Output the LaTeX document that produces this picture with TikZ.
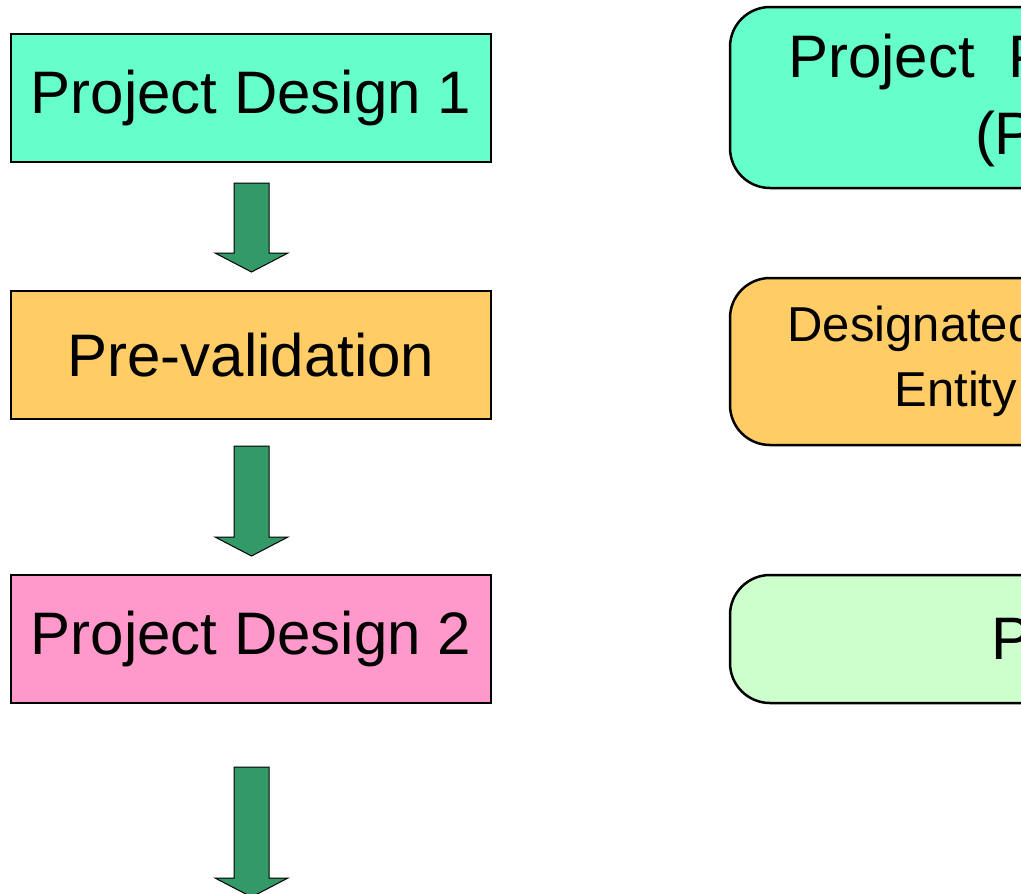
\documentclass[tikz,border=0pt]{standalone}
\usepackage{fontspec}
\setmainfont{Liberation Sans}
\begin{document}
\begin{tikzpicture}[x=1pt,y=-1pt,
  stagebox/.style={draw=black,line width=2pt,minimum width=480pt,minimum height=128pt,inner sep=0pt,font=\fontsize{60}{72}\selectfont},
  actorbox/.style={draw=black,line width=2.5pt,rounded corners=40pt,inner sep=0pt,align=center},
  flowarrow/.style={fill=arrowgreen,draw=black,line width=1pt}]
\definecolor{cyanbox}{HTML}{66FFCC}
\definecolor{orangebox}{HTML}{FFCC66}
\definecolor{pinkbox}{HTML}{FF99CC}
\definecolor{lightgreenbox}{HTML}{CCFFCC}
\definecolor{arrowgreen}{HTML}{339966}
\useasboundingbox (0,0) rectangle (1021,894);
\begin{scope}
\clip (0,0) rectangle (1021,894);
% left stages
\node[stagebox,fill=cyanbox] (pd1) at (251,98) {Project Design 1};
\node[stagebox,fill=orangebox] (pv) at (251,355) {Pre-validation};
\node[stagebox,fill=pinkbox] (pd2) at (251,639) {Project Design 2};
% block arrows
\foreach \top/\base/\tip [count=\i] in {183/253/272, 446/537/556, 767/878/897}{
  \draw[flowarrow] (234,\top) -- (269,\top) -- (269,\base) -- (288,\base) -- (251.5,\tip) -- (215,\base) -- (234,\base) -- cycle;
}
% right actors (cut by the picture edge)
\draw[actorbox,fill=cyanbox] (730,7) rectangle (1340,188);
\node[font=\fontsize{60}{77}\selectfont,align=center] (pp1) at (1035,100) {\hspace*{40pt}Project~ Participants\\(PP)};
\draw[actorbox,fill=orangebox] (730,278) rectangle (1340,445);
\node[font=\fontsize{49}{65}\selectfont,align=center] (doe) at (1040,361) {\hspace*{10pt}Designated Operational\\Entity (DOE)\hspace*{16pt}};
\draw[actorbox,fill=lightgreenbox] (730,575) rectangle (1340,703);
\node[font=\fontsize{60}{72}\selectfont] (pp2) at (1032,639) {PP};
\end{scope}
\end{tikzpicture}
\end{document}
